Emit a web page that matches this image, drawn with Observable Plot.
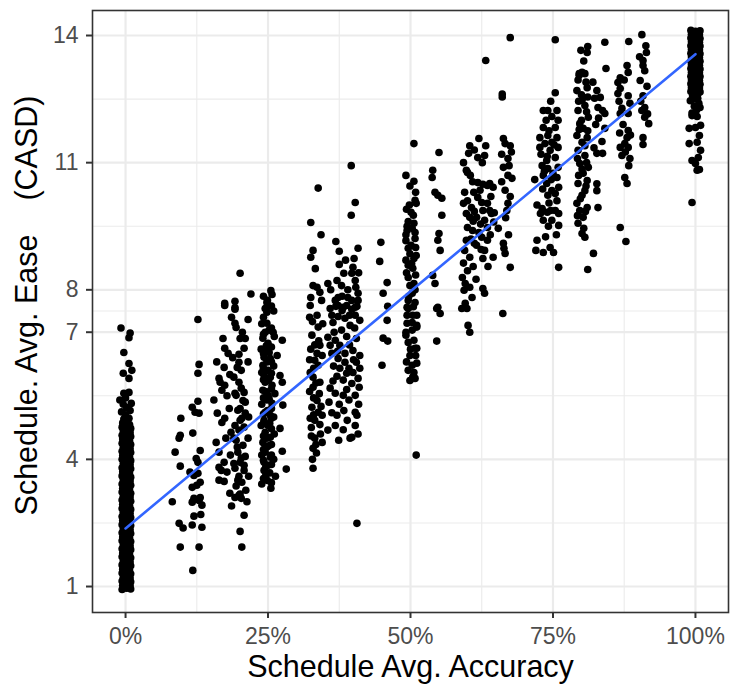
<!DOCTYPE html>
<html>
<head>
<meta charset="utf-8">
<script src="https://cdn.jsdelivr.net/npm/d3@7"></script>
<script src="https://cdn.jsdelivr.net/npm/@observablehq/plot@0.6"></script>
<style>
  html, body { margin: 0; padding: 0; background: #fff; }
  #chart { width: 730px; height: 686px; }
</style>
</head>
<body>
<div id="chart"></div>
<script>
// ---- tick labels / grid ----
const xTicks = [0, 25, 50, 75, 100];
const xMinor = [12.5, 37.5, 62.5, 87.5];
const yTicks = [1, 4, 7, 8, 11, 14];
const yMinor = [2.5, 5.5, 7.5, 9.5, 12.5];
const xTitle = "Schedule Avg. Accuracy";
const yTitle = "Schedule. Avg. Ease\u00a0\u00a0\u00a0\u00a0(CASD)";

// ---- linear fit (accuracy %, ease) ----
const fitX = [0, 100];
const fitY = [2.37, 13.56];

// ---- points [accuracy %, ease] ----
const acc0 = [
[-0.6,0.93],[0.2,0.96],[0.9,0.94],[-0.5,1.03],[0.3,1.06],[0.8,1.02],[-0.6,1.13],[0.1,1.15],[0.9,1.11],
[-0.4,1.22],[0.4,1.25],[0.8,1.2],[-0.6,1.32],[0.2,1.34],[0.9,1.3],[-0.5,1.41],[0.3,1.44],[0.7,1.39],
[-0.6,1.51],[0.1,1.53],[0.9,1.49],[-0.4,1.6],[0.4,1.63],[0.8,1.58],[-0.6,1.7],[0.2,1.72],[0.9,1.68],
[-0.5,1.79],[0.3,1.82],[0.7,1.77],[-0.6,1.89],[0.1,1.91],[0.9,1.87],[-0.4,1.98],[0.4,2.01],[0.8,1.96],
[-0.6,2.08],[0.2,2.1],[0.9,2.06],[-0.5,2.17],[0.3,2.2],[0.7,2.15],[-0.6,2.27],[0.1,2.29],[0.9,2.25],
[-0.4,2.36],[0.4,2.39],[0.8,2.34],[-0.6,2.46],[0.2,2.48],[0.9,2.44],[-0.5,2.56],[0.3,2.58],[0.7,2.53],
[-0.6,2.65],[0.1,2.67],[0.9,2.63],[-0.4,2.75],[0.4,2.77],[0.8,2.72],[-0.6,2.84],[0.2,2.86],[0.9,2.82],
[-0.5,2.94],[0.3,2.96],[0.7,2.91],[-0.6,3.04],[0.1,3.06],[0.9,3.01],[-0.4,3.13],[0.4,3.15],[0.8,3.11],
[-0.6,3.23],[0.2,3.25],[0.9,3.2],[-0.5,3.32],[0.3,3.34],[0.7,3.3],[-0.6,3.42],[0.1,3.44],[0.9,3.39],
[-0.4,3.52],[0.4,3.53],[0.8,3.49],[-0.6,3.61],[0.2,3.63],[0.9,3.58],[-0.5,3.71],[0.3,3.72],[0.7,3.68],
[-0.6,3.8],[0.1,3.82],[0.9,3.78],[-0.4,3.9],[0.4,3.91],[0.8,3.87],[-0.6,4.0],[0.2,4.01],[0.9,3.97],
[-0.5,4.09],[0.3,4.1],[0.7,4.06],[-0.6,4.19],[0.1,4.2],[0.9,4.16],[-0.4,4.28],[0.4,4.29],[0.8,4.25],
[-0.6,4.38],[0.2,4.39],[0.9,4.35],[-0.5,4.48],[0.3,4.48],[0.7,4.44],[-0.6,4.57],[0.1,4.58],[0.9,4.54],
[-0.4,4.67],[0.4,4.67],[0.8,4.63],[-0.6,4.76],[0.2,4.77],[0.9,4.73],[-0.5,4.86],[0.3,4.86],[0.7,4.82],
[-0.15,0.98],[0.55,0.99],[-0.15,1.08],[0.55,1.17],[-0.15,1.27],[0.55,1.36],[-0.15,1.46],[0.55,1.55],
[-0.15,1.65],[0.55,1.74],[-0.15,1.84],[0.55,1.93],[-0.15,2.03],[0.55,2.12],[-0.15,2.22],[0.55,2.31],
[-0.15,2.41],[0.55,2.5],[-0.15,2.6],[0.55,2.7],[-0.15,2.79],[0.55,2.89],[-0.15,2.99],[0.55,3.08],
[-0.15,3.18],[0.55,3.28],[-0.15,3.37],[0.55,3.47],[-0.15,3.56],[0.55,3.66],[-0.15,3.75],[0.55,3.85],
[-0.15,3.94],[0.55,4.04],[-0.15,4.14],[0.55,4.23],[-0.15,4.33],[0.55,4.42],[-0.15,4.52],[0.55,4.62],
[-0.15,4.71],[0.55,4.8],[-0.15,4.9],[0.4,1.0],[-0.3,1.1],[-0.3,2.0],[0.5,3.0],[-0.2,4.0],
[-0.3,4.95],[0.6,4.97],[0.0,5.05],[-0.7,5.12],[0.8,5.15],[0.2,5.22],[-0.4,5.3],[1.0,5.32],[-1.0,5.4],
[0.0,5.45],[0.6,5.58],[-0.3,5.56],[0.6,5.91],[-0.4,6.03],[1.1,6.1],[0.6,6.26],[-0.3,6.52],[0.6,6.87],
[0.8,6.98],[-0.8,7.1]
];
const acc8 = [
[9.7,4.97],[9.6,4.57],[9.4,4.5],[8.7,4.17],[9.6,3.84],[8.2,3.0],[9.4,2.49],[10.1,2.38],[9.6,1.93]
];
const acc12 = [
[12.7,7.3],[12.9,6.24],[12.7,6.03],[12.7,5.37],[11.7,5.23],[12.2,5.11],[12.9,5.09],[11.8,4.62],
[13.1,4.21],[12.4,4.02],[12.7,3.93],[11.3,3.7],[12.0,3.62],[12.7,3.67],[13.1,3.46],[11.7,3.34],
[12.5,3.39],[12.0,3.08],[11.7,2.99],[12.9,3.03],[13.4,2.92],[13.1,3.1],[12.0,2.66],[13.2,2.7],
[11.7,2.45],[13.4,2.4],[12.9,1.93],[11.8,1.38]
];
const acc20 = [
[20.1,8.39],[17.4,7.68],[19.2,7.73],[19.2,7.58],[17.4,7.63],[19.2,7.54],[19.2,7.21],[19.4,7.11],
[17.1,6.85],[17.4,6.62],[20.1,6.85],[21.0,6.85],[20.8,6.62],[19.9,6.48],[17.3,6.17],[18.3,6.0],
[19.9,6.29],[20.3,6.1],[19.6,6.17],[16.4,5.91],[16.6,5.82],[17.4,5.75],[16.9,5.63],[19.0,5.94],
[19.9,5.82],[20.3,5.68],[19.2,5.56],[20.8,5.58],[21.0,5.35],[20.1,5.2],[16.1,5.09],[17.4,4.97],
[16.9,4.87],[19.2,4.8],[19.9,4.69],[20.4,4.97],[20.8,4.76],[15.9,4.4],[16.4,4.17],[17.3,3.93],
[18.5,4.64],[19.0,4.5],[19.4,4.45],[20.6,4.33],[19.7,4.17],[21.0,4.07],[20.1,3.93],[19.2,3.79],
[20.8,3.74],[19.9,3.6],[20.4,3.46],[19.4,3.37],[21.1,3.27],[20.1,3.18],[19.6,4.29],[20.3,4.03],
[20.8,3.86],[19.7,3.51],[19.4,5.51],[20.6,5.39],[19.7,5.16],[21.0,5.09],[20.1,4.92],[16.4,3.81],
[16.8,3.74],[16.4,3.51],[17.3,3.48],[18.3,3.2],[19.2,3.1],[19.9,3.15],[20.3,3.08],[20.8,2.68],
[20.1,2.3],[20.4,1.93],
[22.0,7.9],[21.5,7.3],[18.6,7.35],[20.5,7.0],[18.0,6.5],[21.5,6.3],[18.8,6.4],[17.8,5.5],[21.6,5.0],
[18.2,5.2],[17.6,4.5],[21.5,4.5],[18.4,4.1],[17.8,3.7],[21.6,3.6],[19.0,3.9],[18.6,2.9],[21.3,3.0],
[16.0,6.3],[15.5,5.4]
];
const acc25 = [
[25.5,7.98],[25.7,7.89],[24.8,7.7],[24.8,7.59],[24.5,7.56],[24.8,7.47],[24.8,7.21],[24.5,7.0],
[25.9,7.0],[24.1,6.86],[25.0,6.74],[27.5,6.81],[24.5,6.57],[26.6,6.45],[24.3,6.41],[25.4,6.38],
[24.1,6.22],[25.0,6.1],[24.3,5.98],[25.4,5.94],[27.1,5.98],[27.5,5.82],[24.5,5.82],[25.7,5.75],
[24.1,5.63],[25.0,5.51],[24.8,5.4],[25.7,5.32],[27.6,5.28],[24.5,5.11],[25.4,5.04],[24.3,4.92],
[25.0,4.8],[27.1,4.73],[24.5,4.64],[25.4,4.52],[24.1,4.4],[24.8,4.29],[27.5,4.19],[24.5,4.17],
[25.4,4.05],[24.3,3.93],[25.0,3.86],[24.3,3.74],[24.6,3.62],[28.2,3.77],[25.5,3.32],
[24.2,7.85],[25.6,7.62],[24.2,7.35],[25.6,7.1],[24.2,6.95],[25.6,6.65],[24.2,6.5],[25.6,6.3],
[24.2,6.15],[25.6,6.03],[24.2,5.88],[25.6,5.66],[24.2,5.45],[25.6,5.2],[24.2,5.07],[25.6,4.97],
[24.2,4.85],[25.6,4.72],[24.2,4.55],[25.6,4.35],[24.2,4.23],[25.6,4.1],[24.2,3.98],[25.6,3.88],
[24.2,3.55],[25.6,3.45],
[24.9,7.75],[26.0,7.5],[23.9,7.2],[25.2,7.05],[26.1,6.9],[24.7,6.68],[23.8,6.6],[25.2,6.52],[26.0,6.2],
[24.8,6.3],[23.9,6.05],[25.1,5.87],[26.2,5.55],[24.6,5.6],[23.9,5.3],[25.2,5.42],[26.0,5.0],[24.9,5.15],
[23.8,4.8],[25.3,4.85],[26.1,4.6],[24.8,4.5],[23.9,4.1],[25.1,4.32],[26.0,4.0],[24.6,3.82],[25.3,3.68],
[24.9,3.5],[26.3,3.6],[23.9,3.42]
];
const acc33 = [
[33.8,10.4],[32.5,9.59],[34.3,9.3],[32.9,8.93],[32.5,8.77],[32.9,8.1],[33.6,8.06],[34.1,7.94],
[32.5,7.82],[32.4,7.63],[33.6,7.4],[33.8,7.12],[32.7,6.93],[34.1,6.69],[33.6,6.5],[33.2,6.34],
[33.8,6.22],[32.4,6.05],[32.9,5.94],[34.1,5.82],[32.9,5.7],[33.6,5.39],[32.7,5.23],[33.8,5.11],
[32.4,4.97],[33.2,4.92],[34.5,5.04],[35.5,4.69],[33.2,4.5],[34.5,4.4],[32.9,4.26],[32.9,3.79],
[32.8,7.25],[33.9,6.8],[32.5,6.6],[34.0,5.55],[33.0,5.45],[32.6,4.75],[34.2,4.6],[33.5,4.15],[32.8,4.0],
[33.3,8.5],[34.4,7.75],[32.3,7.35],[34.6,7.2],[33.2,6.7],[32.3,6.35],[34.5,6.45],[33.0,6.15],[33.4,5.8],
[32.3,5.6],[34.3,5.25],[33.0,5.05],[34.1,4.82],[32.6,4.55],[33.4,4.35]
];
const acc38 = [
[39.6,10.93],[40.3,10.06],[39.6,9.76],[36.9,9.14],[37.5,8.91],[40.8,8.98],[40.1,8.74],[37.5,8.6],
[39.9,8.53],[39.7,8.39],[38.3,8.39],[37.1,8.22],[35.5,8.15],[40.3,8.22],[40.4,8.06],[40.8,7.92],
[37.3,7.82],[37.3,7.63],[38.2,7.59],[39.0,7.82],[39.7,7.75],[40.3,7.59],
[35.9,7.56],[36.9,7.61],[38.0,7.51],[38.8,7.63],[39.7,7.54],[40.6,7.61],[37.3,7.37],[38.5,7.33],
[40.3,7.4],[41.1,7.28],[36.4,7.23],[39.4,7.16],[35.5,6.88],[36.8,6.81],[37.6,6.69],[35.9,6.69],
[39.9,6.57],[41.1,6.45],[40.5,6.29],[41.1,6.15],[39.9,6.05],[40.8,5.91],[39.7,5.79],[37.3,6.38],
[38.5,6.29],[37.6,6.15],[38.8,6.03],[37.1,5.96],[38.2,5.87],[39.0,8.0],[38.0,7.85],[36.8,7.75],
[40.8,7.75],[35.9,5.68],[36.8,5.56],[38.2,5.51],[35.7,5.35],[37.1,5.04],[38.9,4.92],[40.3,5.51],
[40.3,5.11],[40.6,5.04],[40.3,4.8],[39.7,4.52],[39.4,4.5],[40.6,2.49],
[36.0,8.0],[37.9,8.1],[40.9,8.4],[38.6,8.7],[36.2,7.4],[39.3,7.4],[37.9,7.05],[40.2,7.1],[36.6,7.0],
[38.8,6.9],[40.5,6.85],[36.2,6.5],[37.2,6.55],[38.5,6.5],[39.3,6.7],[40.0,6.35],[36.5,6.2],[39.2,6.15],
[41.0,5.7],[36.4,5.85],[38.8,5.65],[37.5,5.3],[39.2,5.4],[36.2,5.1],[38.3,5.15],[40.9,5.3],[36.8,4.8],
[38.2,4.7],[40.8,4.6],[37.4,4.45]
];
const acc45 = [
[44.8,9.12],[44.6,8.67],[45.9,8.17],[45.2,7.92],[46.0,7.61],[45.9,7.28],[45.2,6.86],[46.0,6.79],[45.0,6.22]
];
const acc50 = [
[50.6,11.45],[49.2,10.7],[50.6,10.56],[50.8,10.11],[51.0,10.04],[50.1,9.83],[49.6,9.61],[50.6,9.57],
[49.4,9.4],[50.8,9.35],[49.2,9.16],[50.8,9.21],[49.6,8.98],[50.6,8.74],[49.6,8.58],[50.4,8.51],
[49.6,8.29],[50.6,8.15],[50.3,7.92],[49.6,7.75],[50.8,7.7],[49.4,7.59],[49.6,7.56],[50.4,7.4],
[49.4,7.21],[51.1,7.16],[50.3,7.05],[49.6,6.76],[50.8,6.62],[50.3,6.22],[49.9,5.86],[50.4,5.94],
[51.0,4.1],[51.1,7.4],[51.1,7.12],[51.1,6.62],[51.1,6.27],[50.8,5.91],
[49.8,10.0],[50.5,9.76],[49.4,9.5],[50.1,9.05],[51.0,8.81],[49.2,8.7],[49.9,8.1],[50.8,8.0],
[49.4,7.4],[50.3,7.23],[49.2,6.93],[50.6,6.81],[49.9,6.45],[49.6,6.1],
[49.9,10.45],[50.9,10.3],[49.3,9.9],[50.3,9.45],[49.2,9.3],[50.9,9.0],[49.9,8.85],[50.2,8.62],[49.3,8.4],
[50.9,8.35],[49.7,7.85],[50.5,7.6],[49.2,7.0],[50.0,6.6],[50.9,6.45],[49.3,6.3],[50.6,6.05]
];
const acc55 = [
[55.0,11.24],[53.9,10.82],[53.8,10.65],[54.3,10.3],[54.8,10.23],[55.5,10.16],[55.5,9.76],[55.0,9.33],
[54.8,9.17],[55.2,8.93],[53.9,8.34],[54.3,8.15],[54.8,7.59],[54.6,7.56],[55.2,7.44],[54.6,6.79]
];
const acc62 = [
[63.2,13.41],[62.0,11.57],[60.4,11.4],[63.2,11.4],[60.2,11.22],[61.8,11.12],[63.0,11.17],[59.3,11.0],
[59.8,10.82],[60.0,10.77],[60.5,10.7],[61.8,10.53],[62.7,10.49],[63.9,10.51],[64.5,10.42],[63.5,10.46],
[59.5,10.3],[61.1,10.3],[59.3,10.04],[60.7,9.94],[60.4,9.71],[59.8,9.8],[61.8,10.18],[62.5,10.06],
[63.5,10.04],[62.7,9.87],[63.9,9.87],[61.6,9.71],[63.0,9.64],[64.2,9.8],[63.5,9.47],[64.7,9.82],
[60.0,9.47],[60.9,9.4],[59.8,9.17],[61.2,9.1],[59.5,8.93],[60.4,8.77],[59.3,8.63],[62.5,9.24],
[63.5,9.17],[63.0,8.93],[64.5,8.77],[62.7,8.74],[61.6,9.05],[59.1,8.29],[59.6,8.15],[60.4,8.06],
[60.8,7.82],[59.4,7.99],[62.7,8.03],[63.0,7.92],[59.6,7.68],[59.0,7.56],[59.9,7.56],[60.1,7.16],[60.4,7.0],
[61.2,11.3],[62.6,11.0],[60.9,10.55],[62.2,10.35],[64.1,10.2],[60.0,10.1],[61.2,9.85],[62.3,9.55],
[64.6,9.6],[61.0,9.62],[62.0,9.35],[64.0,9.3],[60.6,9.2],[62.4,8.95],[61.0,8.55],[60.0,8.45],[63.6,8.55],
[61.5,8.25]
];
const acc66 = [
[67.5,13.95],[66.1,12.62],[66.1,12.55],[66.3,11.57],[66.6,11.45],[67.5,11.4],[67.1,11.1],[66.3,10.89],
[67.3,10.93],[67.1,10.7],[67.8,10.63],[66.6,10.35],[67.1,10.04],[66.9,9.87],[65.4,9.45],[66.3,9.1],
[66.4,8.98],[66.6,8.86],[67.5,8.53],[66.2,7.44],
[66.0,10.55],[67.5,10.2],[66.7,9.7],[67.2,9.3],[66.0,11.2],[67.7,11.25]
];
const acc75 = [
[75.4,13.9],[75.4,12.65],[73.3,12.23],[74.1,12.23],[75.7,12.23],[74.8,12.09],[73.3,11.83],[75.4,11.83],
[72.7,11.59],[74.1,11.64],[75.7,11.59],[73.6,11.45],[74.8,11.48],[75.9,11.36],[72.7,11.36],[74.5,11.29],
[75.4,11.12],[73.9,11.05],[73.1,10.93],[75.9,10.89],[74.1,10.86],[75.0,10.75],[73.3,10.7],[75.7,10.65],
[71.8,10.6],[73.9,10.51],[74.8,10.34],[75.4,10.27],[74.1,10.23],[72.2,10.0],[73.1,9.92],[74.0,9.83],
[74.6,9.87],[75.4,9.87],[76.0,9.8],[73.3,9.64],[74.8,9.64],[76.0,9.52],[72.2,9.17],[72.0,8.93],
[73.3,8.88],[75.1,8.88],[76.0,8.53],
[74.6,12.45],[73.8,12.0],[75.9,12.0],[74.3,11.75],[72.9,11.2],[75.2,11.42],[74.0,11.15],[73.5,10.8],
[74.7,10.6],[76.0,10.42],[73.2,10.38],[74.3,10.05],[75.7,10.1],[72.8,9.8],[74.2,9.5],[75.6,9.3],
[73.7,9.25],[74.5,9.0]
];
const acc80 = [
[79.9,13.65],[79.6,13.1],[81.1,13.74],[81.0,13.6],[80.1,13.13],[80.6,13.1],[79.6,13.06],[84.3,13.22],
[84.1,13.84],[79.2,12.7],[81.0,12.77],[80.1,12.47],[80.6,12.35],[79.4,12.23],[81.2,12.07],[79.7,11.92],
[80.3,11.81],[79.2,11.64],[81.0,11.59],[80.1,11.48],[79.4,11.29],[80.6,11.17],[79.7,10.98],[81.2,10.89],
[80.3,10.75],[81.0,10.58],[79.4,10.51],[80.6,10.34],[80.1,10.23],[79.2,10.04],[81.0,9.94],[79.7,9.87],
[80.3,9.71],[79.4,9.57],[80.1,9.33],[80.6,9.24],[82.7,12.7],[83.3,12.54],[83.7,12.23],[84.1,12.16],
[82.3,12.52],[82.9,12.3],[84.1,11.81],[82.7,11.22],[83.7,11.22],[82.7,10.5],[82.7,10.34],[82.9,9.94],
[82.1,8.86],[81.1,8.48],
[80.4,13.4],[79.4,12.95],[80.8,12.9],[80.0,12.6],[81.1,12.55],[79.5,12.45],[80.9,12.2],[80.0,12.0],
[81.1,11.75],[79.6,11.78],[80.6,11.4],[79.3,11.1],[80.9,11.0],[80.1,10.85],[79.5,10.7],[80.8,10.45],
[79.8,10.15],[80.7,9.85],[79.3,9.75],[80.4,9.45],[82.0,12.9],[83.0,12.05],[82.5,11.9],[83.6,11.5],[82.2,11.35]
];
const acc87 = [
[88.3,13.86],[88.0,13.29],[88.2,13.13],[86.8,13.0],[86.4,12.89],[86.8,12.75],[86.4,12.63],[88.2,12.58],
[87.1,12.28],[86.8,12.16],[88.2,12.16],[88.2,11.76],[88.0,11.59],[86.8,11.36],[87.6,11.45],[88.2,11.36],
[87.1,11.17],[88.5,11.1],[88.3,10.93],[87.6,10.65],[88.0,10.51],[86.8,9.47],[87.8,9.14],
[87.5,12.95],[88.5,12.4],[86.6,12.45],[87.3,11.9],[88.6,11.65],[86.7,11.7],[87.7,11.25]
];
const acc90 = [
[90.6,14.02],[91.3,13.76],[91.4,13.6],[90.8,13.41],[90.8,13.29],[91.1,13.17],[90.3,12.94],[90.8,12.58],
[91.1,12.3],[90.6,12.23],[91.1,12.07],[91.8,11.92],[90.8,11.59],[90.8,11.43],
[90.2,13.5],[91.5,12.8],[90.4,12.45],[91.6,12.15]
];
const acc100 = [
[99.2,14.12],[100.0,14.1],[100.8,14.11],[99.3,14.03],[100.1,14.0],[100.7,14.02],[99.2,13.94],[100.0,13.91],
[100.8,13.93],[99.3,13.85],[100.1,13.82],[100.7,13.84],[99.2,13.76],[100.0,13.73],[100.8,13.75],[99.3,13.67],
[100.1,13.64],[100.7,13.66],[99.2,13.58],[100.0,13.55],[100.8,13.57],[99.3,13.49],[100.1,13.46],[100.7,13.48],
[99.2,13.4],[100.0,13.37],[100.8,13.39],[99.3,13.31],[100.1,13.28],[100.7,13.3],[99.2,13.22],[100.0,13.19],
[100.8,13.21],[99.3,13.13],[100.1,13.1],[100.7,13.12],[99.2,13.04],[100.0,13.01],[100.8,13.03],[99.3,12.95],
[100.1,12.92],[100.7,12.94],[99.2,12.86],[100.0,12.83],[100.8,12.85],[99.3,12.77],[100.1,12.74],[100.7,12.76],
[99.2,12.68],[100.0,12.65],[100.8,12.67],[99.5,12.58],[100.4,12.52],[99.1,12.46],[100.6,12.4],[99.8,12.33],
[100.2,12.24],[99.4,12.17],[99.4,12.11],[100.3,12.09],[100.9,11.88],[98.9,11.81],[100.0,11.83],[98.9,11.45],
[100.7,11.64],[100.3,11.48],[100.9,11.29],[100.5,11.12],[99.4,11.05],[100.0,10.98],[100.3,10.82],[100.7,10.84],
[99.4,10.06],
[99.6,14.06],[100.4,14.05],[99.6,13.97],[100.4,13.88],[99.6,13.79],[100.4,13.7],[99.6,13.61],[100.4,13.52],
[99.6,13.43],[100.4,13.34],[99.6,13.25],[100.4,13.16],[99.6,13.07],[100.4,12.98],[99.6,12.89],[100.4,12.8],
[99.6,12.71],[100.4,12.62],[99.7,12.5],[100.8,12.3]
];

const points = [acc0, acc8, acc12, acc20, acc25, acc33, acc38, acc45, acc50, acc55, acc62, acc66, acc75, acc80, acc87, acc90, acc100]
  .flat().map(([x, y]) => ({x, y}));
const fit = fitX.map((x, i) => ({x, y: fitY[i]}));

const font = "'Liberation Sans', Arial, Helvetica, sans-serif";
const chart = Plot.plot({
  width: 730,
  height: 686,
  marginLeft: 92,
  marginRight: 2,
  marginTop: 10,
  marginBottom: 74,
  style: {background: "#ffffff", fontFamily: font, overflow: "visible"},
  x: {domain: [-5.8, 105.8], axis: null},
  y: {domain: [0.387, 14.59], axis: null},
  marks: [
    Plot.ruleX(xMinor, {stroke: "#EBEBEB", strokeWidth: 1.1}),
    Plot.ruleY(yMinor, {stroke: "#EBEBEB", strokeWidth: 1.1}),
    Plot.ruleX(xTicks, {stroke: "#EBEBEB", strokeWidth: 2.2}),
    Plot.ruleY(yTicks, {stroke: "#EBEBEB", strokeWidth: 2.2}),
    Plot.dot(points, {x: "x", y: "y", r: 3.8, fill: "#000000", stroke: null}),
    Plot.line(fit, {x: "x", y: "y", stroke: "#3366FF", strokeWidth: 2.6}),
    Plot.frame({stroke: "#333333", strokeWidth: 1.6}),
    Plot.axisX(xTicks, {tickFormat: d => d + "%", tickSize: 6, tickPadding: 9, fontSize: 23,
      color: "#4D4D4D", stroke: "#333333", strokeWidth: 2, label: null}),
    Plot.axisY(yTicks, {tickSize: 6, tickPadding: 8, fontSize: 23,
      color: "#4D4D4D", stroke: "#333333", strokeWidth: 2, label: null}),
    Plot.text([xTitle], {text: d => d, frameAnchor: "bottom", lineAnchor: "middle", textAnchor: "middle",
      dy: 55, fontSize: 30.5, fill: "#000000"}),
    Plot.text([yTitle], {text: d => d, frameAnchor: "left", lineAnchor: "middle", textAnchor: "middle",
      dx: -65, dy: -6, rotate: -90, fontSize: 30.5, fill: "#000000"})
  ]
});
document.getElementById("chart").appendChild(chart);
</script>
</body>
</html>
